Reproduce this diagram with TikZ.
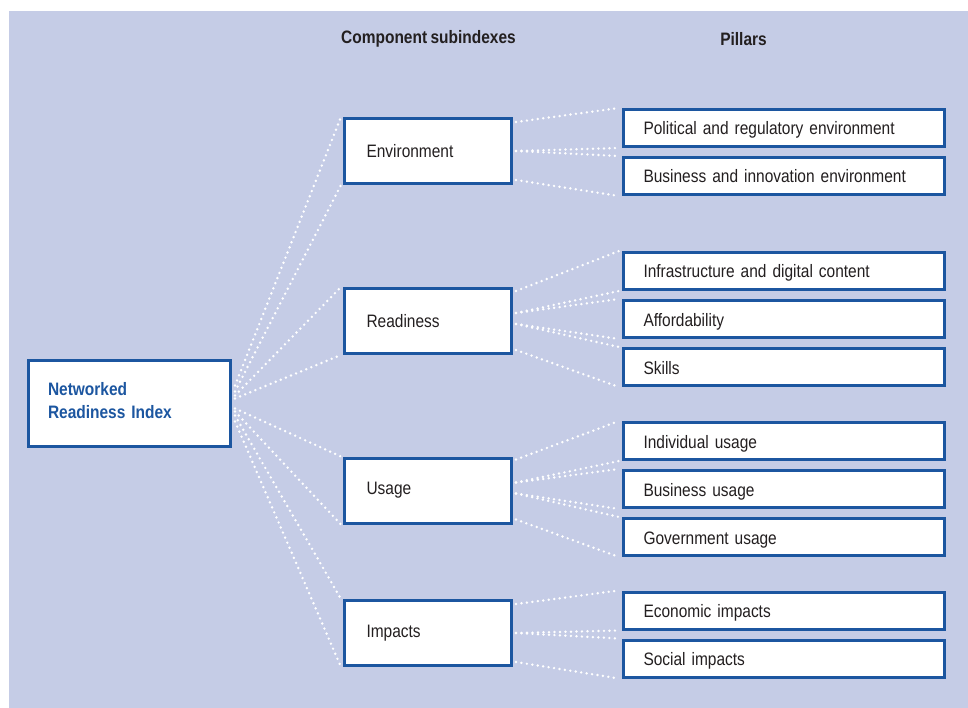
\documentclass[tikz,border=0pt]{standalone}
\usepackage{fontspec}
\setmainfont{Liberation Sans}[FakeStretch=0.86, WordSpace=0.8]
\usetikzlibrary{positioning}

\definecolor{bgblue}{RGB}{197,204,230}
\definecolor{nriblue}{RGB}{28,86,160}
\definecolor{textgray}{RGB}{35,31,32}

\tikzstyle{index} = [rectangle, draw=nriblue, line width=3pt, fill=white, minimum height=86pt, text width=163pt, inner xsep=19.5pt, text depth=29pt, align=left, text=nriblue, font=\bfseries\fontsize{18}{23}\selectfont]
\tikzstyle{subindex} = [rectangle, draw=nriblue, line width=3pt, fill=white, minimum height=65pt, text width=123pt, inner xsep=22pt, align=left, text=textgray]
\tikzstyle{pillar} = [rectangle, draw=nriblue, line width=3pt, fill=white, minimum height=37pt, text width=281pt, inner xsep=20pt, text height=16pt, text depth=2pt, align=left, text=textgray]
\tikzstyle{heading} = [text=textgray, font=\bfseries\fontsize{18}{22}\selectfont]
\tikzstyle{dotline} = [draw=white, line width=2.7pt, line cap=round, dash pattern=on 0pt off 5.5pt]

\begin{document}
\begin{tikzpicture}[x=1pt, y=1pt, node distance=48pt, font=\fontsize{18}{22}\selectfont]
	\useasboundingbox (0,0) rectangle (968,-708);
	\fill [bgblue] (9,-11) rectangle (968,-708);
	% Headings
	\node [heading] (SubindexHead) at (428.5,-39) {Component subindexes};
	\node [heading] (PillarHead) at (743.5,-39) {Pillars};
	% Place nodes
	\node [index] (NRI) at (129.5,-403.5) {Networked\\Readiness Index};
	\node [subindex] (Environment) at (428,-151) {Environment};
	\node [subindex, node distance=170pt, below of=Environment] (Readiness) {Readiness};
	\node [subindex, node distance=169.5pt, below of=Readiness] (Usage) {Usage};
	\node [subindex, node distance=142.5pt, below of=Usage] (Impacts) {Impacts};
	\node [pillar, node distance=356pt, right of=Environment, yshift=23pt] (Political) {Political and regulatory environment};
	\node [pillar, below of=Political] (BusinessEnv) {Business and innovation environment};
	\node [pillar, node distance=356pt, right of=Readiness, yshift=50pt] (Infrastructure) {Infrastructure and digital content};
	\node [pillar, below of=Infrastructure] (Affordability) {Affordability};
	\node [pillar, below of=Affordability] (Skills) {Skills};
	\node [pillar, node distance=356pt, right of=Usage, yshift=49.5pt] (IndividualUsage) {Individual usage};
	\node [pillar, below of=IndividualUsage] (BusinessUsage) {Business usage};
	\node [pillar, below of=BusinessUsage] (GovernmentUsage) {Government usage};
	\node [pillar, node distance=356pt, right of=Impacts, yshift=22.5pt] (Economic) {Economic impacts};
	\node [pillar, below of=Economic] (Social) {Social impacts};
	% Draw edges to subindexes
	\draw [dotline] ([xshift=3pt,yshift=18pt]NRI.east) -- ([xshift=-2pt]Environment.north west);
	\draw [dotline] ([xshift=3pt,yshift=12pt]NRI.east) -- ([xshift=-2pt]Environment.south west);
	\draw [dotline] ([xshift=3pt,yshift=8pt]NRI.east) -- ([xshift=-2pt]Readiness.north west);
	\draw [dotline] ([xshift=3pt,yshift=5pt]NRI.east) -- ([xshift=-2pt]Readiness.south west);
	\draw [dotline] ([xshift=3pt,yshift=-5pt]NRI.east) -- ([xshift=-2pt]Usage.north west);
	\draw [dotline] ([xshift=3pt,yshift=-8pt]NRI.east) -- ([xshift=-2pt]Usage.south west);
	\draw [dotline] ([xshift=3pt,yshift=-12pt]NRI.east) -- ([xshift=-2pt]Impacts.north west);
	\draw [dotline] ([xshift=3pt,yshift=-18pt]NRI.east) -- ([xshift=-2pt]Impacts.south west);
	% Draw edges to pillars
	\draw [dotline] ([xshift=3pt,yshift=-5pt]Environment.north east) -- ([xshift=-3pt]Political.north west);
	\draw [dotline] ([xshift=3pt]Environment.east) -- ([xshift=-3pt]Political.south west);
	\draw [dotline] ([xshift=3pt]Environment.east) -- ([xshift=-3pt]BusinessEnv.north west);
	\draw [dotline] ([xshift=3pt,yshift=5pt]Environment.south east) -- ([xshift=-3pt]BusinessEnv.south west);
	\draw [dotline] ([xshift=3pt,yshift=-4pt]Readiness.north east) -- ([xshift=-3pt]Infrastructure.north west);
	\draw [dotline] ([xshift=3pt,yshift=8pt]Readiness.east) -- ([xshift=-3pt]Infrastructure.south west);
	\draw [dotline] ([xshift=3pt,yshift=8pt]Readiness.east) -- ([xshift=-3pt]Affordability.north west);
	\draw [dotline] ([xshift=3pt,yshift=-3pt]Readiness.east) -- ([xshift=-3pt]Affordability.south west);
	\draw [dotline] ([xshift=3pt,yshift=-3pt]Readiness.east) -- ([xshift=-3pt]Skills.north west);
	\draw [dotline] ([xshift=3pt,yshift=5pt]Readiness.south east) -- ([xshift=-3pt]Skills.south west);
	\draw [dotline] ([xshift=3pt,yshift=-3pt]Usage.north east) -- ([xshift=-3pt]IndividualUsage.north west);
	\draw [dotline] ([xshift=3pt,yshift=8pt]Usage.east) -- ([xshift=-3pt]IndividualUsage.south west);
	\draw [dotline] ([xshift=3pt,yshift=8pt]Usage.east) -- ([xshift=-3pt]BusinessUsage.north west);
	\draw [dotline] ([xshift=3pt,yshift=-3pt]Usage.east) -- ([xshift=-3pt]BusinessUsage.south west);
	\draw [dotline] ([xshift=3pt,yshift=-3pt]Usage.east) -- ([xshift=-3pt]GovernmentUsage.north west);
	\draw [dotline] ([xshift=3pt,yshift=5pt]Usage.south east) -- ([xshift=-3pt]GovernmentUsage.south west);
	\draw [dotline] ([xshift=3pt,yshift=-5pt]Impacts.north east) -- ([xshift=-3pt]Economic.north west);
	\draw [dotline] ([xshift=3pt]Impacts.east) -- ([xshift=-3pt]Economic.south west);
	\draw [dotline] ([xshift=3pt]Impacts.east) -- ([xshift=-3pt]Social.north west);
	\draw [dotline] ([xshift=3pt,yshift=5pt]Impacts.south east) -- ([xshift=-3pt]Social.south west);
\end{tikzpicture}
\end{document}
